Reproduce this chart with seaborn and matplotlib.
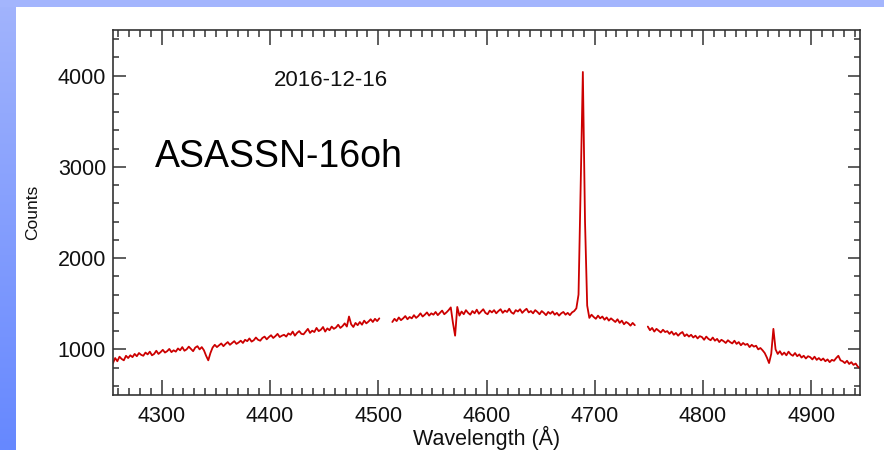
import numpy as np
import pandas as pd
import matplotlib
matplotlib.use("Agg")
import matplotlib.pyplot as plt
import seaborn as sns

# Spectrum of ASASSN-16oh, three chip segments sampled every 2 Angstrom
seg1_start, seg1_end = 4255, 4501
seg1_counts = [
    850, 905, 870, 920, 895, 880, 930, 905, 935, 915,
    950, 925, 960, 940, 930, 965, 945, 975, 935, 950,
    985, 950, 970, 995, 965, 980, 1005, 970, 990, 975,
    1010, 990, 1025, 985, 1000, 1030, 1005, 980, 1020, 1035,
    1000, 1025, 990, 930, 880, 960, 1020, 1050, 1025, 1045,
    1065, 1035, 1060, 1080, 1050, 1070, 1090, 1060, 1075, 1095,
    1070, 1105, 1090, 1120, 1085, 1100, 1130, 1105, 1095, 1125,
    1140, 1110, 1135, 1155, 1125, 1145, 1170, 1135, 1150, 1160,
    1140, 1175, 1160, 1195, 1150, 1180, 1200, 1170, 1165, 1195,
    1225, 1180, 1205, 1190, 1235, 1200, 1215, 1245, 1195, 1230,
    1210, 1250, 1225, 1240, 1270, 1235, 1255, 1285, 1250, 1360,
    1275, 1245, 1290, 1265, 1300, 1270, 1315, 1285, 1305, 1330,
    1300, 1335, 1310, 1340,
]

seg2_start, seg2_end = 4513, 4737
seg2_counts = [
    1300, 1335, 1310, 1350, 1320, 1340, 1365, 1330, 1355, 1340,
    1375, 1345, 1365, 1395, 1360, 1380, 1405, 1370, 1395, 1380,
    1410, 1375, 1400, 1425, 1385, 1405, 1430, 1460, 1290, 1150,
    1465, 1370, 1415, 1385, 1430, 1400, 1380, 1420, 1395, 1435,
    1390, 1415, 1440, 1400, 1385, 1425, 1405, 1430, 1395, 1420,
    1440, 1400, 1425, 1410, 1445, 1405, 1390, 1430, 1415, 1440,
    1400, 1425, 1445, 1405, 1420, 1395, 1430, 1410, 1385, 1420,
    1400, 1375, 1410, 1390, 1415, 1380, 1400, 1370, 1395, 1410,
    1380, 1400, 1375, 1405, 1420, 1450, 1600, 2800, 4040, 2400,
    1480, 1345, 1380, 1355, 1335, 1370, 1340, 1360, 1325, 1350,
    1315, 1340, 1320, 1300, 1330, 1290, 1315, 1275, 1300, 1285,
    1260, 1290, 1265,
]

seg3_start, seg3_end = 4749, 4945
seg3_counts = [
    1250, 1210, 1235, 1195, 1225, 1205, 1185, 1215, 1190, 1200,
    1170, 1195, 1160, 1180, 1150, 1175, 1190, 1145, 1165, 1140,
    1160, 1130, 1150, 1120, 1145, 1135, 1105, 1140, 1115, 1100,
    1130, 1095, 1115, 1080, 1105, 1090, 1070, 1100, 1080, 1065,
    1095, 1060, 1080, 1045, 1070, 1050, 1060, 1025, 1050, 1030,
    1040, 1000, 1015, 990, 960, 910, 850, 950, 1225, 1000,
    950, 980, 940, 965, 935, 975, 945, 930, 960, 925,
    945, 910, 930, 900, 925, 915, 890, 920, 885, 905,
    880, 900, 870, 890, 860, 885, 875, 905, 930, 880,
    870, 850, 875, 840, 860, 830, 845, 810, 795,
]

x_ticks = [4300, 4400, 4500, 4600, 4700, 4800, 4900]
y_ticks = [1000, 2000, 3000, 4000]

frames = []
for i, (s, e, c) in enumerate([(seg1_start, seg1_end, seg1_counts),
                               (seg2_start, seg2_end, seg2_counts),
                               (seg3_start, seg3_end, seg3_counts)]):
    wl = np.arange(s, e + 1, 2)
    frames.append(pd.DataFrame({"wavelength": wl, "counts": c, "segment": i}))
spec = pd.concat(frames, ignore_index=True)

sns.set_theme(style="ticks")
plt.rcParams["font.family"] = ["Liberation Sans", "DejaVu Sans"]

W, H = 884, 450
fig = plt.figure(figsize=(W / 100, H / 100), dpi=100, facecolor="white")

# slide-style blue frame: gradient strip on the left, flat band on top
left_bg = fig.add_axes([0, 0, 16 / W, 1])
grad = np.linspace(0, 1, 256).reshape(-1, 1)
top_rgb = np.array([0xA2, 0xB4, 0xFC]) / 255
bot_rgb = np.array([0x66, 0x88, 0xFF]) / 255
img = top_rgb[None, None, :] * (1 - grad[:, :, None]) + bot_rgb[None, None, :] * grad[:, :, None]
left_bg.imshow(img, aspect="auto", extent=[0, 1, 0, 1], origin="upper")
left_bg.set_axis_off()
top_bg = fig.add_axes([0, 1 - 7 / H, 1, 7 / H])
top_bg.set_facecolor("#A3B5FD")
top_bg.set_xticks([]); top_bg.set_yticks([])
for sp in top_bg.spines.values():
    sp.set_visible(False)

ax = fig.add_axes([113 / W, 55 / H, 747 / W, 365 / H])
sns.lineplot(data=spec, x="wavelength", y="counts", units="segment",
             estimator=None, sort=False, color="#CC0000", linewidth=1.3, ax=ax)

ax.set_xlim(4255, 4945)
ax.set_ylim(500, 4500)
ax.set_xticks(x_ticks)
ax.set_yticks(y_ticks)
ax.set_xticks(np.arange(4260, 4945, 10), minor=True)
ax.set_yticks(np.arange(600, 4500, 200), minor=True)

edge = "#333333"
for sp in ax.spines.values():
    sp.set_visible(True)
    sp.set_linewidth(1.2)
    sp.set_color(edge)
ax.tick_params(axis="both", which="both", direction="in", top=True, right=True,
               color=edge, width=1.1, labelsize=15.5, labelcolor="#111111")
ax.tick_params(axis="x", which="major", length=11, pad=8)
ax.tick_params(axis="x", which="minor", length=5)
ax.tick_params(axis="y", which="major", length=9, pad=5)
ax.tick_params(axis="y", which="minor", length=4.5)

ax.set_xlabel("Wavelength (Å)", fontsize=15.5, color="#111111")
ax.set_ylabel("Counts", fontsize=12.5, color="#111111")
ax.xaxis.set_label_coords(0.5, -0.118)
ax.xaxis.label.set_va("center")
ax.yaxis.set_label_coords(-0.107, 0.5)
ax.yaxis.label.set_va("center")

ax.text(0.292, 0.863, "2016-12-16", transform=ax.transAxes, ha="center",
        va="center", fontsize=16, color="#111111")
ax.text(0.056, 0.652, "ASASSN-16oh", transform=ax.transAxes, ha="left",
        va="center", fontsize=27, color="black")

fig.savefig("out.png", dpi=100, facecolor="white")
